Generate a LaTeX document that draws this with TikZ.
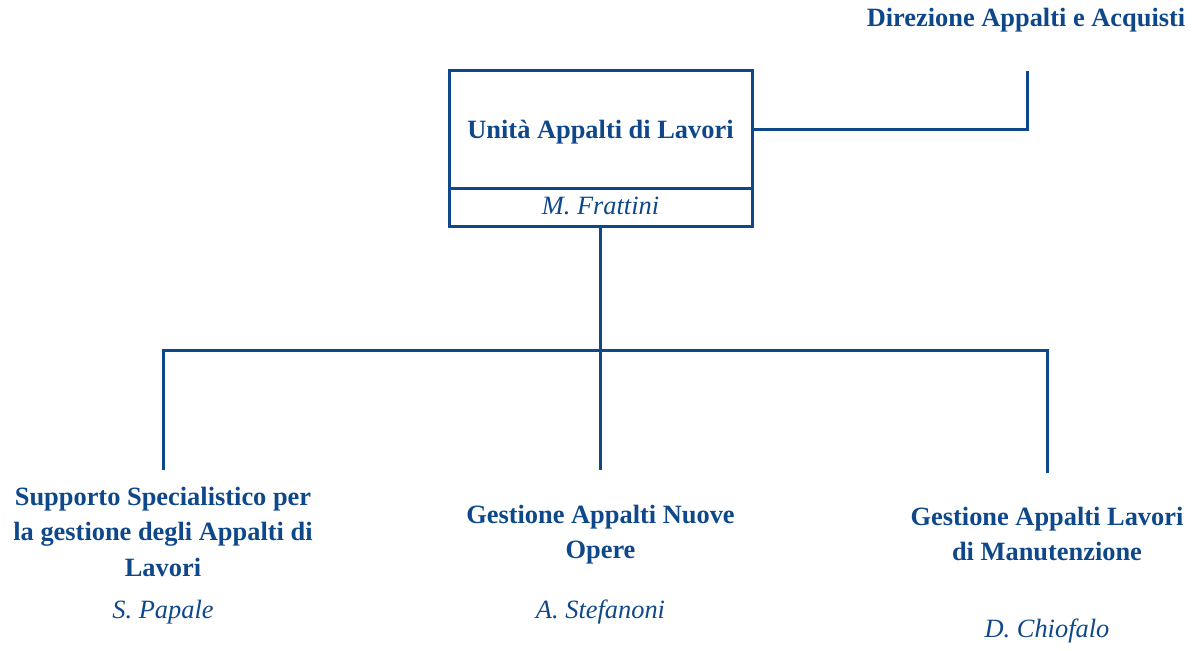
\documentclass[tikz,border=0pt]{standalone}
\usepackage{fontspec}
\setmainfont{Liberation Serif}
\definecolor{orgblue}{RGB}{14,72,138}
\begin{document}
\begin{tikzpicture}[x=1pt,y=-1pt,
  conn/.style={draw=orgblue,line width=3pt},
  boxnode/.style={draw=orgblue,line width=3pt,minimum width=303pt,inner sep=0pt,text=orgblue},
  head/.style={text=orgblue,inner sep=0pt,anchor=base,font=\fontsize{26.4}{35.5}\selectfont\bfseries},
  person/.style={text=orgblue,inner sep=0pt,anchor=base,font=\fontsize{26.4}{35.5}\selectfont\itshape}]
\useasboundingbox (0,0) rectangle (1198,650);
% main box
\node[boxnode,minimum height=117pt,text height=19pt,text depth=0pt,font=\fontsize{26.4}{35.5}\selectfont\bfseries] (unit) at (600.5,129.5) {Unità Appalti di Lavori};
\node[boxnode,minimum height=38pt,text height=17.5pt,text depth=2pt,font=\fontsize{26.4}{35.5}\selectfont\itshape] (mgr) at (600.5,207) {M. Frattini};
% parent
\node[head] (dir) at (1026,27) {Direzione Appalti e Acquisti};
\coordinate (dirend) at (1027,71);
\draw[conn] (unit.east) -| (dirend);
% children
\coordinate (bus) at (600.5,350);
\coordinate (c1) at (163,470);
\coordinate (c2) at (600.5,470);
\coordinate (c3) at (1047,473);
\draw[conn] (mgr.south) -- (c2);
\draw[conn] (c1) |- (bus) -| (c3);
\node[head] (t1) at (163,505) {\begin{tabular}[t]{@{}c@{}}Supporto Specialistico per\\la gestione degli Appalti di\\Lavori\end{tabular}};
\node[person] (p1) at (163,618) {S. Papale};
\node[head] (t2) at (600.5,523) {\begin{tabular}[t]{@{}c@{}}Gestione Appalti Nuove\\Opere\end{tabular}};
\node[person] (p2) at (600.5,618) {A. Stefanoni};
\node[head] (t3) at (1047,525) {\begin{tabular}[t]{@{}c@{}}Gestione Appalti Lavori\\di Manutenzione\end{tabular}};
\node[person] (p3) at (1047,637) {D. Chiofalo};
\end{tikzpicture}
\end{document}
